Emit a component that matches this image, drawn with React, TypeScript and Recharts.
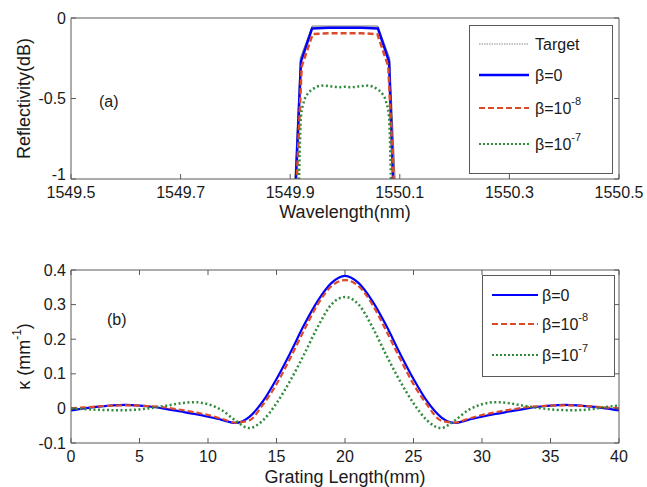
import React from "react";
import { LineChart, Line, XAxis, YAxis, Legend, Label } from "recharts";

const FONT = "Arial, 'Liberation Sans', Helvetica, sans-serif";
const INK = "#1a1a1a";
const AXIS = "#5a5a5a";

const BLUE = "#0000ff";
const RED = "#dd4a2a";
const GREEN = "#2f8a3a";
const GRAY = "#6e6e6e";

// (a) reflectivity spectra
const wlTicks = [1549.5, 1549.7, 1549.9, 1550.1, 1550.3, 1550.5];
const dbTicks = [-1, -0.5, 0];

const targetWl = [1549.906, 1549.9185, 1549.94, 1549.97, 1550.0, 1550.03, 1550.06, 1550.0815, 1550.094];
const targetDb = [-1.2, -0.25, -0.05, -0.05, -0.05, -0.05, -0.05, -0.25, -1.2];

const beta0Wl = [1549.908, 1549.9197, 1549.94, 1549.97, 1550.0, 1550.03, 1550.06, 1550.0803, 1550.0896];
const beta0Db = [-1.2, -0.27, -0.065, -0.06, -0.06, -0.06, -0.065, -0.27, -1.2];

const beta8Wl = [1549.9095, 1549.921, 1549.941, 1549.97, 1550.0, 1550.03, 1550.059, 1550.079, 1550.0915];
const beta8Db = [-1.2, -0.3, -0.1, -0.095, -0.095, -0.095, -0.1, -0.3, -1.2];

const beta7Wl = [
  1549.915, 1549.9165, 1549.918, 1549.9197, 1549.925, 1549.932, 1549.94, 1549.958, 1549.975,
  1549.99, 1550.0, 1550.01, 1550.025, 1550.042, 1550.06, 1550.068, 1550.075, 1550.0803,
  1550.082, 1550.0835, 1550.085,
];
const beta7Db = [
  -1.2, -0.95, -0.75, -0.61, -0.52, -0.47, -0.445, -0.42, -0.425,
  -0.43, -0.427, -0.43, -0.425, -0.42, -0.445, -0.47, -0.52, -0.61,
  -0.75, -0.95, -1.2,
];

// (b) coupling coefficient along the grating
const lengthTicks = [0, 5, 10, 15, 20, 25, 30, 35, 40];
const kappaTicks = [-0.1, 0, 0.1, 0.2, 0.3, 0.4];

const lengths = [
  0, 1, 2, 3, 4, 5, 6, 7, 8, 9, 10, 11, 12, 13, 14, 15, 16, 17, 18, 19, 20,
  21, 22, 23, 24, 25, 26, 27, 28, 29, 30, 31, 32, 33, 34, 35, 36, 37, 38, 39, 40,
];
const kappaBeta0 = [
  -0.006, 0.0, 0.005, 0.009, 0.01, 0.008, 0.004, -0.002, -0.009, -0.016, -0.024, -0.033, -0.042,
  -0.025, 0.02, 0.085, 0.16, 0.24, 0.31, 0.362, 0.383, 0.362, 0.31, 0.24, 0.16, 0.085, 0.02,
  -0.025, -0.042, -0.033, -0.024, -0.016, -0.009, -0.002, 0.004, 0.008, 0.01, 0.009, 0.005, 0.0, -0.006,
];
const kappaBeta8 = [
  0.0, 0.003, 0.006, 0.008, 0.009, 0.008, 0.006, 0.002, -0.004, -0.011, -0.019, -0.03, -0.041,
  -0.035, 0.01, 0.07, 0.145, 0.225, 0.3, 0.353, 0.371, 0.353, 0.3, 0.225, 0.145, 0.07, 0.01,
  -0.035, -0.041, -0.03, -0.019, -0.011, -0.004, 0.002, 0.006, 0.008, 0.009, 0.008, 0.006, 0.003, 0.0,
];
const kappaBeta7 = [
  0.0, -0.002, -0.004, -0.005, -0.005, -0.003, 0.002, 0.008, 0.015, 0.018, 0.012, -0.005, -0.035,
  -0.057, -0.035, 0.015, 0.08, 0.155, 0.235, 0.3, 0.322, 0.3, 0.235, 0.155, 0.08, 0.015, -0.035,
  -0.057, -0.035, -0.005, 0.012, 0.018, 0.015, 0.008, 0.002, -0.003, -0.005, -0.005, -0.002, 0.004, 0.008,
];

const zip = (xs: number[], ys: number[]) => xs.map((wl, i) => ({ wl, db: ys[i] }));
const targetData = zip(targetWl, targetDb);
const beta0Data = zip(beta0Wl, beta0Db);
const beta8Data = zip(beta8Wl, beta8Db);
const beta7Data = zip(beta7Wl, beta7Db);

const kappaRows = lengths.map((z, i) => ({
  z,
  b0: kappaBeta0[i],
  b8: kappaBeta8[i],
  b7: kappaBeta7[i],
}));

const tickFont = { fontSize: 16, fontFamily: FONT, fill: INK };
const blank = () => "";

// y tick labels; the bottom one is lifted a little so it clears the x labels
const dbTick = (props: any) => {
  const { x, y, payload } = props;
  const lift = payload.value === -1 ? -5 : 0;
  return (
    <text x={x} y={y + lift} textAnchor="end" dominantBaseline="central" fontSize={16} fontFamily={FONT} fill={INK}>
      {payload.value}
    </text>
  );
};

type Entry = { label: React.ReactNode; stroke: string; width: number; dash?: string; y: number };

const betaLabel = (exp?: string) =>
  exp ? (
    <>
      <tspan>β=10</tspan>
      <tspan dy={-7} fontSize={11}>
        {exp}
      </tspan>
    </>
  ) : (
    <tspan>β=0</tspan>
  );

const legendBox = (entries: Entry[], w: number, h: number, x0: number, x1: number, tx: number) => () =>
  (
    <svg width={w} height={h} style={{ display: "block" }}>
      <rect x={0.5} y={0.5} width={w - 1} height={h - 1} fill="#fff" stroke={AXIS} strokeWidth={1} />
      {entries.map((e, i) => (
        <g key={i}>
          <line x1={x0} x2={x1} y1={e.y} y2={e.y} stroke={e.stroke} strokeWidth={e.width} strokeDasharray={e.dash} />
          <text x={tx} y={e.y} dominantBaseline="central" fontSize={16} fontFamily={FONT} fill={INK}>
            {e.label}
          </text>
        </g>
      ))}
    </svg>
  );

const topLegend = legendBox(
  [
    { label: "Target", stroke: "#8a8a8a", width: 1, dash: "1.5 1", y: 19 },
    { label: betaLabel(), stroke: BLUE, width: 2.5, y: 50 },
    { label: betaLabel("-8"), stroke: RED, width: 2, dash: "6 3", y: 83 },
    { label: betaLabel("-7"), stroke: GREEN, width: 2.2, dash: "2 2", y: 119 },
  ],
  144,
  149,
  10,
  60,
  66
);

const bottomLegend = legendBox(
  [
    { label: betaLabel(), stroke: BLUE, width: 2, y: 20 },
    { label: betaLabel("-8"), stroke: RED, width: 2, dash: "6 3", y: 49 },
    { label: betaLabel("-7"), stroke: GREEN, width: 2.2, dash: "2 2", y: 80 },
  ],
  133,
  102,
  10,
  56,
  60
);

const xTitle = (text: React.ReactNode, gap: number) => (props: any) => {
  const vb = props.viewBox || {};
  return (
    <text
      x={vb.x + vb.width / 2}
      y={vb.y + gap}
      textAnchor="middle"
      dominantBaseline="central"
      fontSize={18}
      fontFamily={FONT}
      fill={INK}
    >
      {text}
    </text>
  );
};

const yTitle = (text: React.ReactNode, cx: number) => (props: any) => {
  const vb = props.viewBox || {};
  const cy = vb.y + vb.height / 2;
  return (
    <text
      x={cx}
      y={cy}
      transform={`rotate(-90 ${cx} ${cy})`}
      textAnchor="middle"
      dominantBaseline="central"
      fontSize={18}
      fontFamily={FONT}
      fill={INK}
    >
      {text}
    </text>
  );
};

const panelTag = (text: string, left: number, top: number) => (
  <div
    style={{
      position: "absolute",
      left,
      top,
      fontFamily: FONT,
      fontSize: 16,
      color: INK,
      lineHeight: "16px",
    }}
  >
    {text}
  </div>
);

const axisCommon = {
  stroke: AXIS,
  tickSize: -5,
  allowDataOverflow: true,
  isAnimationActive: false,
};

export default function App() {
  return (
    <div style={{ position: "absolute", left: 0, top: 0, width: 647, height: 487, background: "#fff" }}>
      <div style={{ position: "absolute", left: 0, top: 0 }}>
        <LineChart width={647} height={230} margin={{ top: 17, right: 0, bottom: 6, left: 0 }}>
          <XAxis
            dataKey="wl"
            type="number"
            domain={[1549.5, 1550.5]}
            ticks={wlTicks}
            height={45}
            tickMargin={13}
            tick={tickFont}
            {...axisCommon}
          >
            <Label content={xTitle("Wavelength(nm)", 33)} />
          </XAxis>
          <XAxis
            xAxisId="t"
            orientation="top"
            type="number"
            domain={[1549.5, 1550.5]}
            ticks={wlTicks}
            height={1}
            tickFormatter={blank}
            {...axisCommon}
          />
          <YAxis
            type="number"
            domain={[-1, 0]}
            ticks={dbTicks}
            width={71}
            tickMargin={10}
            tick={dbTick}
            {...axisCommon}
          >
            <Label content={yTitle("Reflectivity(dB)", 24)} />
          </YAxis>
          <YAxis
            yAxisId="r"
            orientation="right"
            type="number"
            domain={[-1, 0]}
            ticks={dbTicks}
            width={28}
            tickFormatter={blank}
            {...axisCommon}
          />
          <Legend
            layout="vertical"
            align="center"
            verticalAlign="middle"
            content={topLegend}
            wrapperStyle={{ position: "absolute", left: 469, top: 25, width: 144, height: 149 }}
          />
          <Line data={targetData} dataKey="db" type="linear" stroke={GRAY} strokeWidth={1} dot={false} isAnimationActive={false} />
          <Line data={beta0Data} dataKey="db" type="linear" stroke={BLUE} strokeWidth={2.5} dot={false} isAnimationActive={false} />
          <Line data={beta8Data} dataKey="db" type="linear" stroke={RED} strokeWidth={2.5} strokeDasharray="6 3" dot={false} isAnimationActive={false} />
          <Line data={beta7Data} dataKey="db" type="monotone" stroke={GREEN} strokeWidth={2.5} strokeDasharray="2 2.5" dot={false} isAnimationActive={false} />
        </LineChart>
        {panelTag("(a)", 99, 94)}
      </div>

      <div style={{ position: "absolute", left: 0, top: 245 }}>
        <LineChart width={647} height={242} data={kappaRows} margin={{ top: 24, right: 0, bottom: 6, left: 0 }}>
          <XAxis
            dataKey="z"
            type="number"
            domain={[0, 40]}
            ticks={lengthTicks}
            height={38}
            tickMargin={13}
            tick={tickFont}
            {...axisCommon}
          >
            <Label content={xTitle("Grating Length(mm)", 34)} />
          </XAxis>
          <XAxis
            xAxisId="t"
            orientation="top"
            type="number"
            domain={[0, 40]}
            ticks={lengthTicks}
            height={1}
            tickFormatter={blank}
            {...axisCommon}
          />
          <YAxis
            type="number"
            domain={[-0.1, 0.4]}
            ticks={kappaTicks}
            width={71}
            tickMargin={10}
            tick={tickFont}
            {...axisCommon}
          >
            <Label
              content={yTitle(
                <>
                  <tspan>κ (mm</tspan>
                  <tspan dy={-7} fontSize={12}>
                    -1
                  </tspan>
                  <tspan dy={7}>)</tspan>
                </>,
                24
              )}
            />
          </YAxis>
          <YAxis
            yAxisId="r"
            orientation="right"
            type="number"
            domain={[-0.1, 0.4]}
            ticks={kappaTicks}
            width={28}
            tickFormatter={blank}
            {...axisCommon}
          />
          <Legend
            layout="vertical"
            align="center"
            verticalAlign="middle"
            content={bottomLegend}
            wrapperStyle={{ position: "absolute", left: 482, top: 30, width: 133, height: 102 }}
          />
          <Line dataKey="b0" type="monotone" stroke={BLUE} strokeWidth={2.2} dot={false} isAnimationActive={false} />
          <Line dataKey="b8" type="monotone" stroke={RED} strokeWidth={2.2} strokeDasharray="6 3" dot={false} isAnimationActive={false} />
          <Line dataKey="b7" type="monotone" stroke={GREEN} strokeWidth={2.5} strokeDasharray="2 2.5" dot={false} isAnimationActive={false} />
        </LineChart>
        {panelTag("(b)", 107, 67)}
      </div>
    </div>
  );
}
